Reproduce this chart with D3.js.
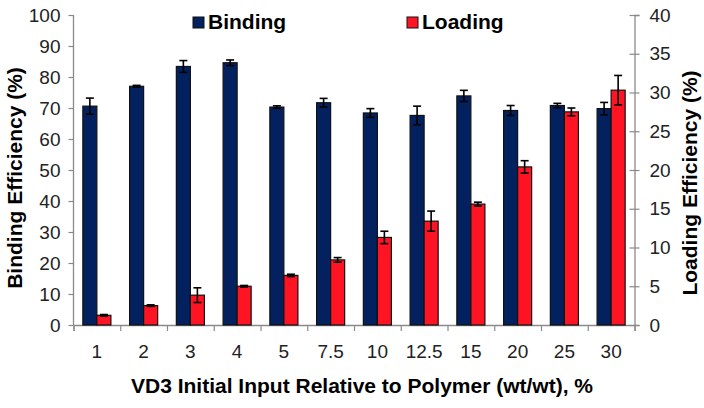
<!DOCTYPE html>
<html>
<head>
<meta charset="utf-8">
<script src="https://cdn.jsdelivr.net/npm/d3@7"></script>
<style>
  body { margin: 0; background: #fff; }
  svg { display: block; font-family: "Liberation Sans", Arial, sans-serif; }
</style>
</head>
<body>
<svg id="chart"></svg>
<script>
// Data
const categories = ["1", "2", "3", "4", "5", "7.5", "10", "12.5", "15", "20", "25", "30"];
const binding = [70.6, 77.0, 83.4, 84.6, 70.3, 71.7, 68.4, 67.6, 73.9, 69.2, 70.8, 69.8];
const bindingErr = [2.6, 0.3, 1.9, 0.9, 0.4, 1.4, 1.4, 3.0, 1.8, 1.6, 0.7, 2.0];
const loading = [1.25, 2.5, 3.85, 5.0, 6.4, 8.4, 11.3, 13.4, 15.6, 20.4, 27.5, 30.3];
const loadingErr = [0.1, 0.1, 0.95, 0.1, 0.15, 0.3, 0.8, 1.3, 0.25, 0.8, 0.5, 1.9];
const leftTicks = d3.range(0, 101, 10);
const rightTicks = d3.range(0, 41, 5);
const series = ["Binding", "Loading"];

const width = 704;
const height = 408;
const M = { left: 73.5, right: 634.5, top: 15, bottom: 325 };
const colors = { Binding: "#03215f", Loading: "#ff1424" };

const svg = d3.select("#chart")
  .attr("width", width)
  .attr("height", height);

// Scales
const x = d3.scaleBand().domain(categories).range([M.left, M.right])
  .paddingInner(0.4).paddingOuter(0.2);
const xSub = d3.scaleBand().domain(series).range([0, x.bandwidth()]);
const xIdx = d3.scaleLinear().domain([0, categories.length]).range([M.left, M.right]);
const yL = d3.scaleLinear().domain([0, 100]).range([M.bottom, M.top]);
const yR = d3.scaleLinear().domain([0, 40]).range([M.bottom, M.top]);

const rows = categories.map((c, i) => ({
  cat: c,
  vals: [
    { key: "Binding", v: binding[i], e: bindingErr[i], y: yL },
    { key: "Loading", v: loading[i], e: loadingErr[i], y: yR }
  ]
}));

// Axes
const axisColor = "#8a8a8a";
const textColor = "#222";

const gL = svg.append("g").attr("transform", `translate(${M.left},0)`)
  .call(d3.axisLeft(yL).tickValues(leftTicks).tickSize(5).tickPadding(8));
const gR = svg.append("g").attr("transform", `translate(${M.right},0)`)
  .call(d3.axisRight(yR).tickValues(rightTicks).tickSize(5).tickPadding(10));
gR.selectAll(".tick line").attr("x1", -5);

const gX = svg.append("g").attr("transform", `translate(0,${M.bottom})`)
  .call(d3.axisBottom(xIdx).tickValues(d3.range(0, categories.length + 1)).tickSize(6).tickFormat(""));
const gXLab = svg.append("g").attr("transform", `translate(0,${M.bottom})`)
  .call(d3.axisBottom(x).tickSize(0).tickPadding(20));
gXLab.select(".domain").remove();

[gL, gR, gX].forEach(g => {
  g.select(".domain").attr("stroke", axisColor).attr("stroke-width", 1.3);
  g.selectAll(".tick line").attr("stroke", axisColor).attr("stroke-width", 1.2);
});
[gL, gR, gXLab].forEach(g => {
  g.selectAll("text").attr("font-size", 19).attr("fill", textColor)
    .attr("font-family", "Liberation Sans, Arial, sans-serif");
});
gL.selectAll(".domain").attr("d", `M0,${M.bottom}V${M.top}`);

// Bars
const groups = svg.append("g").selectAll("g")
  .data(rows)
  .join("g")
  .attr("transform", d => `translate(${x(d.cat)},0)`);

groups.selectAll("rect")
  .data(d => d.vals)
  .join("rect")
  .attr("x", d => xSub(d.key))
  .attr("y", d => d.y(d.v))
  .attr("width", xSub.bandwidth())
  .attr("height", d => M.bottom - d.y(d.v))
  .attr("fill", d => colors[d.key])
  .attr("stroke", "#111")
  .attr("stroke-width", 1.2);

// Error bars
const err = groups.selectAll("g.err")
  .data(d => d.vals)
  .join("g")
  .attr("class", "err")
  .attr("stroke", "#000")
  .attr("stroke-width", 1.6);
const cx = d => xSub(d.key) + xSub.bandwidth() / 2;
err.append("line")
  .attr("x1", cx).attr("x2", cx)
  .attr("y1", d => d.y(d.v + d.e)).attr("y2", d => d.y(d.v - d.e));
err.append("line")
  .attr("x1", d => cx(d) - 4).attr("x2", d => cx(d) + 4)
  .attr("y1", d => d.y(d.v + d.e)).attr("y2", d => d.y(d.v + d.e));
err.append("line")
  .attr("x1", d => cx(d) - 4).attr("x2", d => cx(d) + 4)
  .attr("y1", d => d.y(d.v - d.e)).attr("y2", d => d.y(d.v - d.e));

// Axis titles
svg.append("text")
  .attr("transform", `translate(22,178) rotate(-90)`)
  .attr("text-anchor", "middle")
  .attr("font-size", 21).attr("font-weight", "bold").attr("fill", "#000")
  .text("Binding Efficiency (%)");
svg.append("text")
  .attr("transform", `translate(697,183) rotate(-90)`)
  .attr("text-anchor", "middle")
  .attr("font-size", 21).attr("font-weight", "bold").attr("fill", "#000")
  .text("Loading Efficiency (%)");
svg.append("text")
  .attr("x", 362).attr("y", 393)
  .attr("text-anchor", "middle")
  .attr("font-size", 21).attr("font-weight", "bold").attr("fill", "#000")
  .text("VD3 Initial Input Relative to Polymer (wt/wt), %");

// Legend
const legendX = [193, 407];
const legend = svg.append("g").selectAll("g")
  .data(series)
  .join("g")
  .attr("transform", (d, i) => `translate(${legendX[i]},0)`);
legend.append("rect")
  .attr("x", 0).attr("y", 17).attr("width", 11).attr("height", 11)
  .attr("fill", d => colors[d]).attr("stroke", "#111").attr("stroke-width", 1);
legend.append("text")
  .attr("x", 15).attr("y", 29)
  .attr("font-size", 21).attr("font-weight", "bold").attr("fill", "#000")
  .text(d => d);
</script>
</body>
</html>
